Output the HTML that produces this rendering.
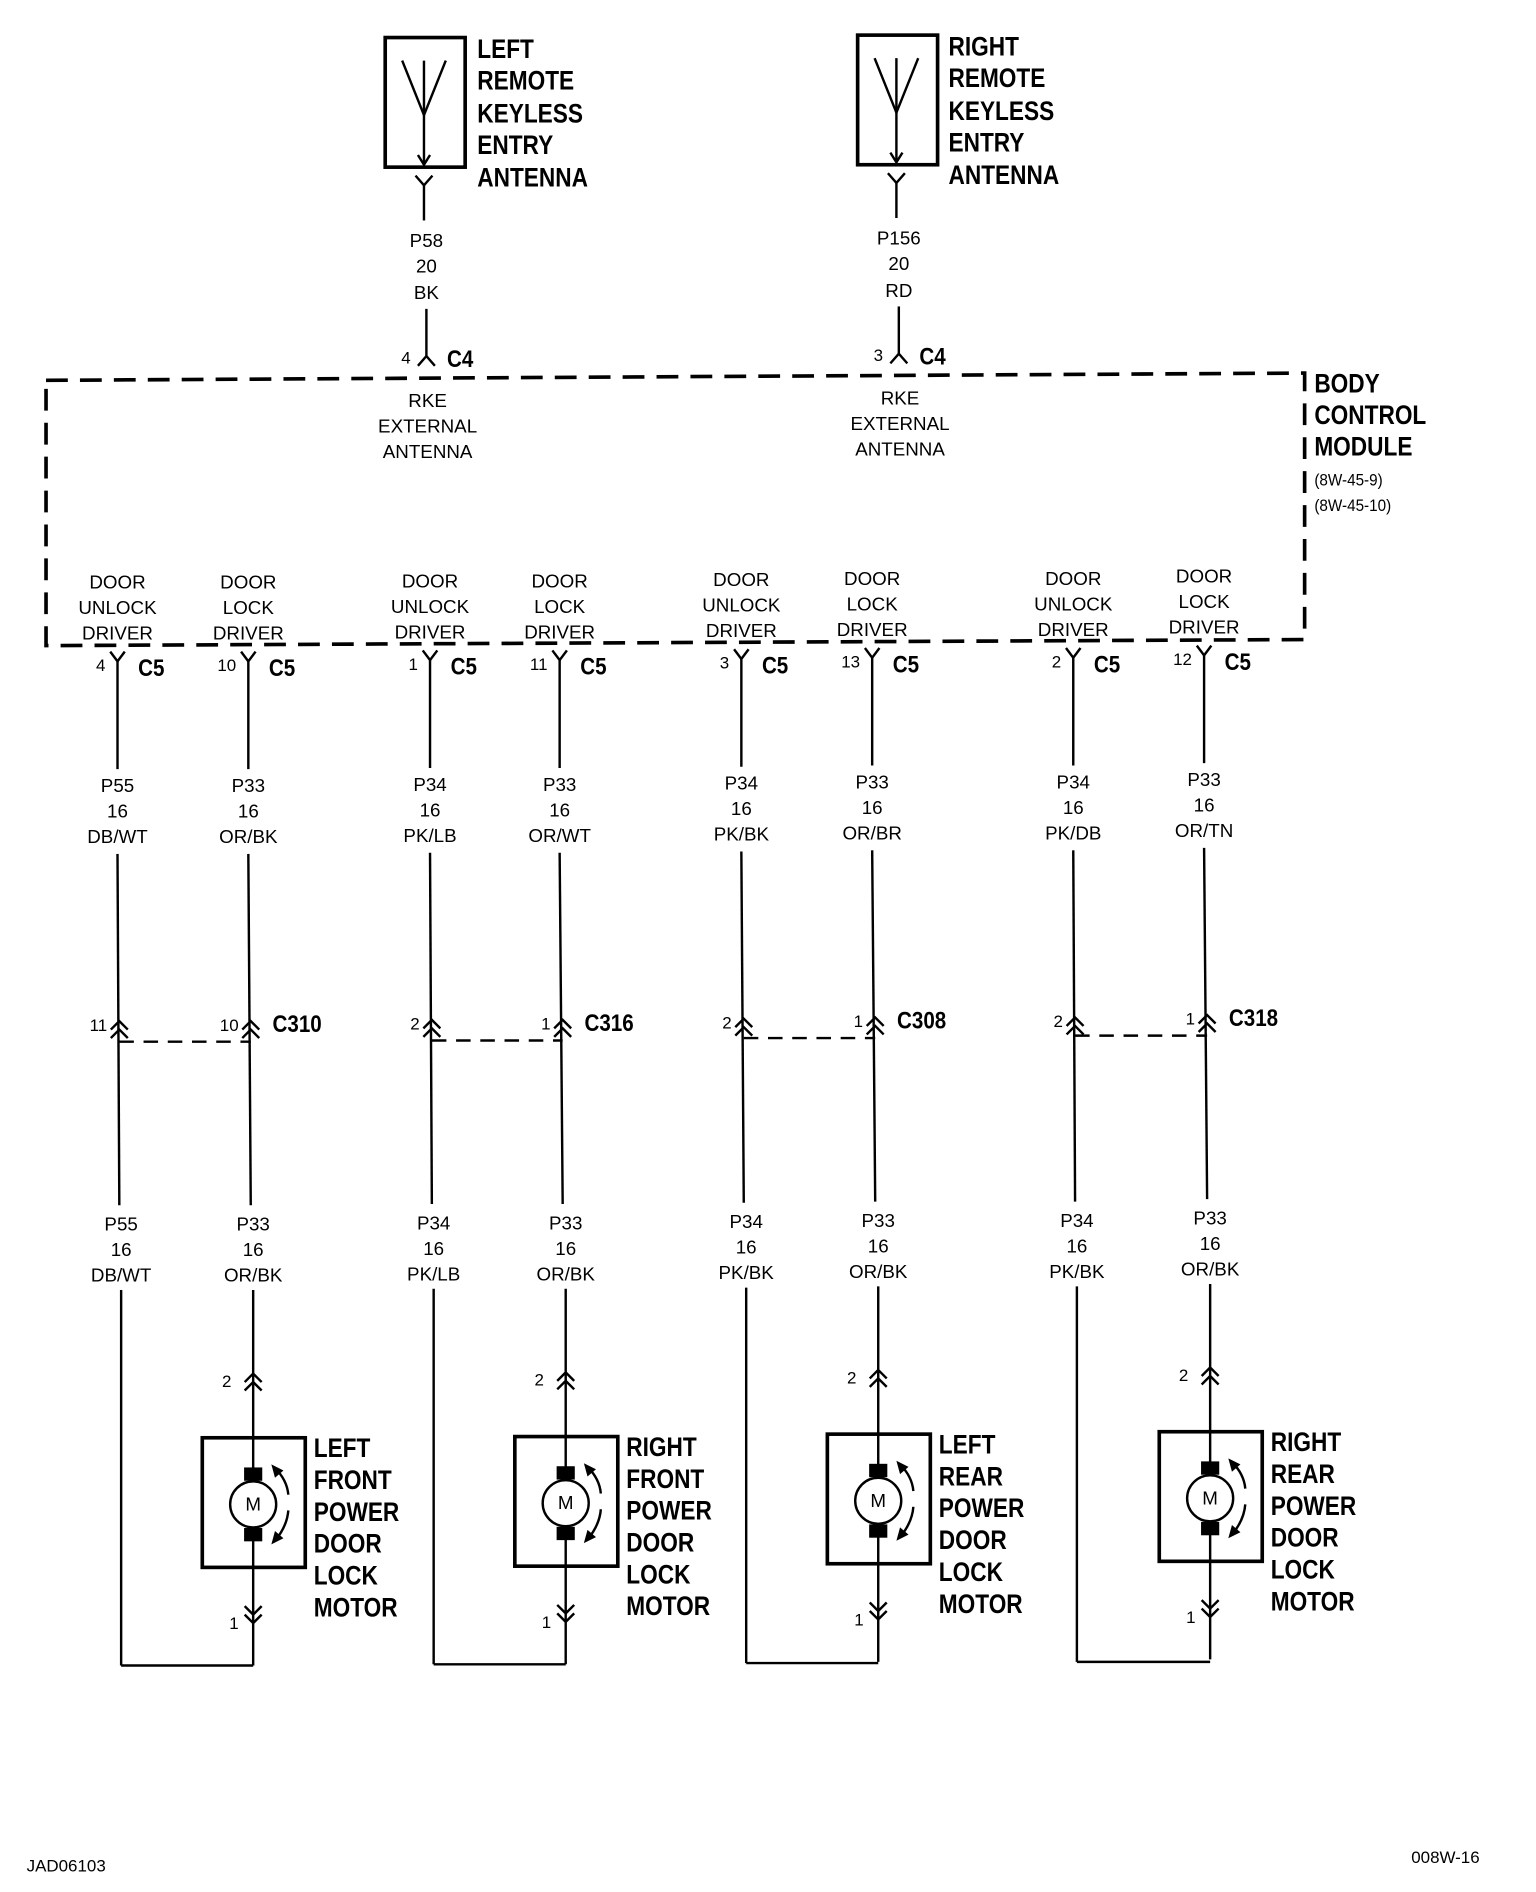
<!DOCTYPE html>
<html><head><meta charset="utf-8"><style>
html,body{margin:0;padding:0;background:#fff;}
svg{display:block}
.t{font-family:"Liberation Sans",sans-serif;font-size:15.5px;fill:#000;text-anchor:middle}
.n{font-family:"Liberation Sans",sans-serif;font-size:14px;fill:#000;text-anchor:end}
.b{font-family:"Liberation Sans",sans-serif;font-size:22px;font-weight:bold;fill:#000}
.c{font-family:"Liberation Sans",sans-serif;font-size:20px;font-weight:bold;fill:#000}
.s{font-family:"Liberation Sans",sans-serif;font-size:14px;fill:#000}
line,path,rect,circle,polyline{stroke:#000;fill:none}
</style></head><body>
<svg width="1536" height="1892" viewBox="0 0 1268 1562" preserveAspectRatio="none" xmlns="http://www.w3.org/2000/svg">
<g stroke-width="2">
<rect x="318" y="31" width="66" height="107" stroke-width="3"/>
<polyline points="332,50 350,95 368,50"/>
<line x1="350" y1="50" x2="350" y2="136"/>
<polyline points="345,128 350,136 355,128"/>
<polyline points="343,145 350,153 357,145"/>
<line x1="350" y1="153" x2="350" y2="182"/>
<line x1="352" y1="255" x2="352" y2="295"/>
<polyline points="345,302 352,294 359,302"/>
<rect x="708" y="29" width="66" height="107" stroke-width="3"/>
<polyline points="722,48 740,93 758,48"/>
<line x1="740" y1="48" x2="740" y2="134"/>
<polyline points="735,126 740,134 745,126"/>
<polyline points="733,143 740,151 747,143"/>
<line x1="740" y1="151" x2="740" y2="180"/>
<line x1="742" y1="253" x2="742" y2="293"/>
<polyline points="735,300 742,292 749,300"/>
<path d="M38,314 L1077,308 L1077,528 L38,533 Z" stroke-width="3" stroke-dasharray="18,10"/>
</g>
<g>
<text class="b" transform="translate(394,48) scale(0.85,1)">LEFT</text>
<text class="b" transform="translate(394,74) scale(0.85,1)">REMOTE</text>
<text class="b" transform="translate(394,101) scale(0.85,1)">KEYLESS</text>
<text class="b" transform="translate(394,127) scale(0.85,1)">ENTRY</text>
<text class="b" transform="translate(394,154) scale(0.85,1)">ANTENNA</text>
<text class="b" transform="translate(783,46) scale(0.85,1)">RIGHT</text>
<text class="b" transform="translate(783,72) scale(0.85,1)">REMOTE</text>
<text class="b" transform="translate(783,99) scale(0.85,1)">KEYLESS</text>
<text class="b" transform="translate(783,125) scale(0.85,1)">ENTRY</text>
<text class="b" transform="translate(783,152) scale(0.85,1)">ANTENNA</text>
<text class="b" transform="translate(1085,324) scale(0.85,1)">BODY</text>
<text class="b" transform="translate(1085,350) scale(0.85,1)">CONTROL</text>
<text class="b" transform="translate(1085,376) scale(0.85,1)">MODULE</text>
<text class="s" transform="translate(1085,401) scale(0.9,1)">(8W-45-9)</text>
<text class="s" transform="translate(1085,422) scale(0.9,1)">(8W-45-10)</text>
<text class="t" x="352" y="204">P58</text><text class="t" x="352" y="225">20</text><text class="t" x="352" y="247">BK</text>
<text class="t" x="742" y="202">P156</text><text class="t" x="742" y="223">20</text><text class="t" x="742" y="245">RD</text>
<text class="n" x="339" y="300">4</text><text class="c" transform="translate(369,303) scale(0.85,1)">C4</text>
<text class="n" x="729" y="298">3</text><text class="c" transform="translate(759,301) scale(0.85,1)">C4</text>
<text class="t" x="353" y="336">RKE</text><text class="t" x="353" y="357">EXTERNAL</text><text class="t" x="353" y="378">ANTENNA</text>
<text class="t" x="743" y="334">RKE</text><text class="t" x="743" y="355">EXTERNAL</text><text class="t" x="743" y="376">ANTENNA</text>
<text class="s" x="22" y="1545">JAD06103</text>
<text class="s" x="1165" y="1538">008W-16</text>
</g>
<g id="cols"></g>
<script>
(function(){
var NS="http://www.w3.org/2000/svg",g=document.getElementById('cols');
function el(t,a,txt){var e=document.createElementNS(NS,t);for(var k in a)e.setAttribute(k,a[k]);if(a.fill)e.style.fill=a.fill;if(txt!=null)e.textContent=txt;g.appendChild(e);return e;}
function ln(x1,y1,x2,y2,w){el('line',{x1:x1,y1:y1,x2:x2,y2:y2,'stroke-width':w||2});}
function pl(p,w){el('polyline',{points:p,'stroke-width':w||2});}
function tx(c,x,y,s,tr){if(tr)el('text',{'class':c,transform:'translate('+x+','+y+') scale(0.85,1)'},s);else el('text',{'class':c,x:x,y:y},s);}
function chevUp(x,y){pl((x-7)+','+(y+7)+' '+x+','+y+' '+(x+7)+','+(y+7));pl((x-7)+','+(y+14)+' '+x+','+(y+7)+' '+(x+7)+','+(y+14));}
function chevDn(x,y){pl((x-7)+','+(y-7)+' '+x+','+y+' '+(x+7)+','+(y-7));pl((x-7)+','+(y-14)+' '+x+','+(y-7)+' '+(x+7)+','+(y-14));}
var cols=[
 {xt:97,xb:100,pin:'4',lab:['DOOR','UNLOCK','DRIVER'],w1:['P55','16','DB/WT'],w2:['P55','16','DB/WT'],cp:'11',d:0},
 {xt:205,xb:209,pin:'10',lab:['DOOR','LOCK','DRIVER'],w1:['P33','16','OR/BK'],w2:['P33','16','OR/BK'],cp:'10',cn:'C310',m:['LEFT','FRONT','POWER','DOOR','LOCK','MOTOR'],d:0},
 {xt:355,xb:358,pin:'1',lab:['DOOR','UNLOCK','DRIVER'],w1:['P34','16','PK/LB'],w2:['P34','16','PK/LB'],cp:'2',d:-1},
 {xt:462,xb:467,pin:'11',lab:['DOOR','LOCK','DRIVER'],w1:['P33','16','OR/WT'],w2:['P33','16','OR/BK'],cp:'1',cn:'C316',m:['RIGHT','FRONT','POWER','DOOR','LOCK','MOTOR'],d:-1},
 {xt:612,xb:616,pin:'3',lab:['DOOR','UNLOCK','DRIVER'],w1:['P34','16','PK/BK'],w2:['P34','16','PK/BK'],cp:'2',d:-2},
 {xt:720,xb:725,pin:'13',lab:['DOOR','LOCK','DRIVER'],w1:['P33','16','OR/BR'],w2:['P33','16','OR/BK'],cp:'1',cn:'C308',m:['LEFT','REAR','POWER','DOOR','LOCK','MOTOR'],d:-3},
 {xt:886,xb:889,pin:'2',lab:['DOOR','UNLOCK','DRIVER'],w1:['P34','16','PK/DB'],w2:['P34','16','PK/BK'],cp:'2',d:-3},
 {xt:994,xb:999,pin:'12',lab:['DOOR','LOCK','DRIVER'],w1:['P33','16','OR/TN'],w2:['P33','16','OR/BK'],cp:'1',cn:'C318',m:['RIGHT','REAR','POWER','DOOR','LOCK','MOTOR'],d:-5}
];
cols.forEach(function(c,i){
 var d=c.d,xt=c.xt,xb=c.xb,xm=(xt+xb)/2;
 for(var k=0;k<3;k++)tx('t',xt,486+d+k*21,c.lab[k]);
 pl((xt-6)+','+(538+d)+' '+xt+','+(546+d)+' '+(xt+6)+','+(538+d));
 ln(xt,546+d,xt,635+d);
 tx('n',xt-10,554+d,c.pin);
 tx('c',xt+17,558+d,'C5',true);
 for(k=0;k<3;k++)tx('t',xt,654+d+k*21,c.w1[k]);
 ln(xt,705+d,xm,995+d);
 chevUp(xm,843+d);
 tx('n',xm-10,851+d,c.cp);
 if(c.cn)tx('c',xm+18,852+d,c.cn,true);
 if(i%2==1){el('line',{x1:cols[i-1].xt/2+cols[i-1].xb/2,y1:860+d,x2:xm,y2:860+d,'stroke-width':2,'stroke-dasharray':'12,8'});}
 for(k=0;k<3;k++)tx('t',xb,1016+d+k*21,c.w2[k]);
 if(!c.m){
  ln(xb,1065+d,xb,1375+d);
  ln(xb,1375+d,cols[i+1].xb,1375+d);
 } else {
  ln(xb,1065+d,xb,1375+d);
  chevUp(xb,1134+d);
  tx('n',xb-18,1145+d,'2');
  var bx=xb-42,by=1187+d,cy=by+55;
  el('rect',{x:bx,y:by,width:85,height:107,'stroke-width':3,fill:'#fff'});
  ln(xb,by,xb,by+107);
  el('rect',{x:xb-7,y:cy-30,width:14,height:10,fill:'#000',stroke:'none'});
  el('rect',{x:xb-7,y:cy+20,width:14,height:10,fill:'#000',stroke:'none'});
  el('circle',{cx:xb,cy:cy,r:19,'stroke-width':2,fill:'#fff'});
  el('text',{'class':'t',x:xb,y:cy+5,'font-size':'14'},'M');
  el('path',{d:'M'+(xb+18)+','+(cy-30)+' Q'+(xb+28)+','+(cy-20)+' '+(xb+29)+','+(cy-8),'stroke-width':2});
  el('polygon',{points:(xb+15)+','+(cy-33)+' '+(xb+25)+','+(cy-28)+' '+(xb+18)+','+(cy-22),fill:'#000',stroke:'none'});
  el('path',{d:'M'+(xb+29)+','+(cy+5)+' Q'+(xb+28)+','+(cy+18)+' '+(xb+18)+','+(cy+30),'stroke-width':2});
  el('polygon',{points:(xb+15)+','+(cy+33)+' '+(xb+25)+','+(cy+28)+' '+(xb+18)+','+(cy+22),fill:'#000',stroke:'none'});
  chevDn(xb,1340+d);
  tx('n',xb-12,1345+d,'1');
  for(k=0;k<6;k++)tx('b',xb+50,1203+d+k*26.3,c.m[k],true);
 }
});
})();
</script>
</svg>
</body></html>
